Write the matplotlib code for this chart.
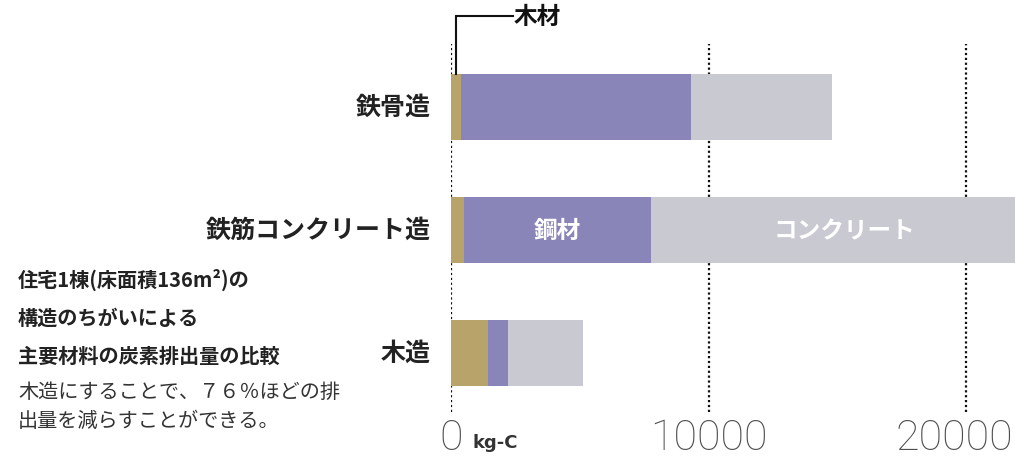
import matplotlib
matplotlib.use("Agg")
import matplotlib.pyplot as plt
from matplotlib import transforms

plt.rcParams['font.family'] = ['Noto Sans CJK JP', 'DejaVu Sans']

# 主要材料ごとの炭素排出量 (kg-C)
structures = ["鉄骨造", "鉄筋コンクリート造", "木造"]
wood = [380, 500, 1440]
steel = [8940, 7255, 770]
concrete = [5480, 14145, 2920]
ticks = [0, 10000, 20000]

c_wood = "#b8a36a"
c_steel = "#8a85b8"
c_conc = "#c8c9d1"

W, H = 1015, 460
fig = plt.figure(figsize=(W / 100, H / 100), dpi=100)
x0 = 451
ax = fig.add_axes([x0 / W, 0, (W - x0) / W, 1])
ax.set_xlim(0, (W - x0) / 0.02575)
ax.set_ylim((H - 108) / 123, -108 / 123)
ax.axis("off")

ypos = list(range(len(structures)))
h = 0.53
left_steel = wood
left_conc = [w + s for w, s in zip(wood, steel)]
ax.barh(ypos, wood, height=h, color=c_wood, zorder=2)
ax.barh(ypos, steel, left=left_steel, height=h, color=c_steel, zorder=2)
ax.barh(ypos, concrete, left=left_conc, height=h, color=c_conc, zorder=2)

# 目盛りの点線
for t in ticks:
    ax.axvline(t, ymin=1 - 413 / H, ymax=1 - 45 / H, color="#111111",
               lw=1.6, ls=(0, (1, 1.2)), zorder=1)

# 目盛りラベル (右端のものは枠内に収める)
tick_font = dict(fontsize=31, family=["Roboto", "DejaVu Sans"],
                 fontweight="light", color="#4d4d4d", va="center",
                 clip_on=False)
btrans = transforms.blended_transform_factory(ax.transData, ax.transAxes)
for t in ticks:
    if t == ticks[-1]:
        ax.text(0.997, 1 - 438 / H, f"{t}", transform=ax.transAxes,
                ha="right", **tick_font)
    else:
        ax.text(t, 1 - 438 / H, f"{t}", transform=btrans, ha="center",
                **tick_font)
ax.text(850, 1 - 443 / H, "kg-C", transform=btrans, ha="left",
        va="center", fontsize=13, fontweight="bold", color="#333333",
        family=["DejaVu Sans"])

# 構造名
for y, name in zip(ypos, structures):
    ax.text(-800, y, name, ha="right", va="center", fontsize=18,
            fontweight="bold", color="#222222", clip_on=False)

# バー内のラベル (鉄筋コンクリート造)
rc = 1
ax.text(left_steel[rc] + steel[rc] / 2, rc, "鋼材", ha="center",
        va="center", fontsize=17, fontweight="bold", color="white", zorder=3)
ax.text(left_conc[rc] + concrete[rc] / 2 + 470, rc, "コンクリート", ha="center",
        va="center", fontsize=17, fontweight="bold", color="white", zorder=3)

# 木材の引き出し線
top0 = -h / 2
lx = wood[0] / 2 + 20
ax.plot([lx, lx, 2400], [top0, -91 / 123, -91 / 123], color="#111111",
        lw=1.5, clip_on=False, zorder=3, solid_joinstyle="miter")
ax.text(2450, -91 / 123, "木材", ha="left", va="center", fontsize=17,
        fontweight="bold", color="#111111", clip_on=False)

# 左側の説明文
fig.text(18 / W, 1 - 280 / H, "住宅1棟(床面積136m²)の", ha="left", va="center",
         fontsize=14.5, fontweight="bold", color="#222222")
fig.text(18 / W, 1 - 318 / H, "構造のちがいによる", ha="left", va="center",
         fontsize=14.5, fontweight="bold", color="#222222")
fig.text(18 / W, 1 - 356 / H, "主要材料の炭素排出量の比較", ha="left", va="center",
         fontsize=14.5, fontweight="bold", color="#222222")
fig.text(18 / W, 1 - 393 / H, "木造にすることで、７６％ほどの排", ha="left",
         va="center", fontsize=14.5, color="#333333")
fig.text(18 / W, 1 - 421 / H, "出量を減らすことができる。", ha="left",
         va="center", fontsize=14.5, color="#333333")

fig.savefig("out.png", dpi=100, facecolor="white")
